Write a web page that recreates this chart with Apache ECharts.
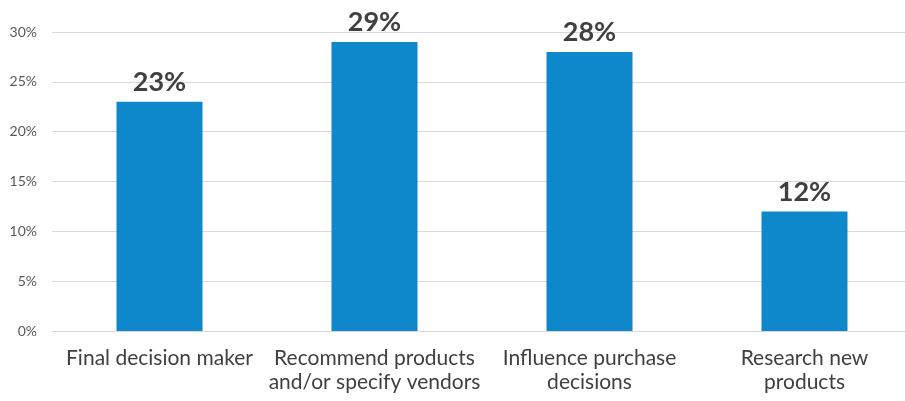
<!DOCTYPE html>
<html>
<head>
<meta charset="utf-8">
<script src="https://cdn.jsdelivr.net/npm/echarts@6/dist/echarts.min.js"></script>
<style>
html,body{margin:0;padding:0;background:#fff;overflow:hidden;}
#chart{width:913px;height:401px;}
</style>
</head>
<body>
<div id="chart"></div>
<script>
const categories = ["Final decision maker", "Recommend products\nand/or specify vendors", "Influence purchase\ndecisions", "Research new\nproducts"];
const values = [23, 29, 28, 12];
const yTicks = { min: 0, max: 30, interval: 5 };

const chart = echarts.init(document.getElementById('chart'), null, { renderer: 'canvas' });
chart.setOption({
  animation: false,
  grid: { left: 52, top: 32, right: 1, bottom: 70, containLabel: false },
  xAxis: {
    type: 'category',
    data: categories,
    axisLine: { show: true, lineStyle: { color: '#d9d9d9', width: 1 } },
    axisTick: { show: false },
    axisLabel: {
      interval: 0,
      margin: 15,
      fontFamily: 'Lato',
      fontSize: 21,
      lineHeight: 24,
      color: '#404040'
    }
  },
  yAxis: {
    type: 'value',
    min: yTicks.min,
    max: yTicks.max,
    interval: yTicks.interval,
    axisLine: { show: false },
    axisTick: { show: false },
    splitLine: { lineStyle: { color: '#d9d9d9', width: 1 } },
    axisLabel: {
      formatter: '{value}%',
      margin: 15,
      fontFamily: 'Lato',
      fontSize: 14,
      color: '#595959'
    }
  },
  series: [{
    type: 'bar',
    data: values,
    barWidth: '40%',
    itemStyle: { color: '#0E88CA' },
    label: {
      show: true,
      position: 'top',
      distance: 6,
      formatter: '{c}%',
      fontFamily: 'Lato',
      fontWeight: 'bold',
      fontSize: 27,
      color: '#404040'
    }
  }]
});
</script>
</body>
</html>
